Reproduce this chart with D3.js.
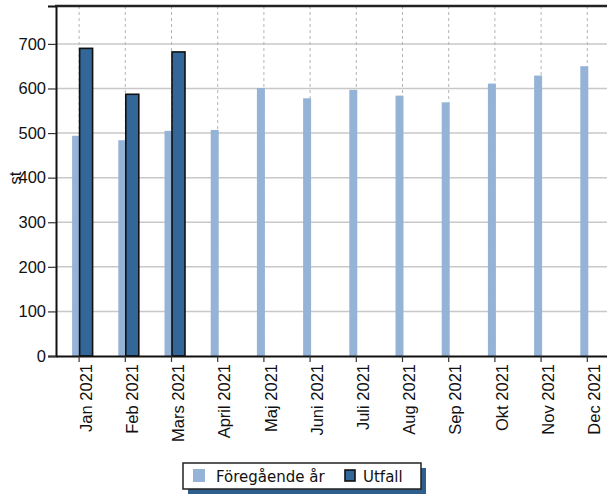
<!DOCTYPE html>
<html>
<head>
<meta charset="utf-8">
<script src="https://cdn.jsdelivr.net/npm/d3@7"></script>
<style>
  body { margin: 0; background: #fff; }
  svg { display: block; }
</style>
</head>
<body>
<div id="chart"></div>
<script>
// data
var months = ["Jan 2021", "Feb 2021", "Mars 2021", "April 2021", "Maj 2021", "Juni 2021",
  "Juli 2021", "Aug 2021", "Sep 2021", "Okt 2021", "Nov 2021", "Dec 2021"];
var previousYear = [494, 484, 505, 507, 601, 578, 597, 584, 569, 611, 629, 650];
var outcome = [690, 587, 682];
var yTicks = [0, 100, 200, 300, 400, 500, 600, 700];

var width = 607, height = 495;
var margin = { top: 6, left: 56, bottom: 139 };
var plotBottom = height - margin.bottom;
var axisFont = "'Liberation Sans', Arial, sans-serif";
var legendFont = "'DejaVu Sans', Verdana, sans-serif";

var svg = d3.select("#chart").append("svg")
  .attr("width", width)
  .attr("height", height);

svg.append("rect").attr("width", width).attr("height", height).attr("fill", "#fff");

var x = d3.scaleBand()
  .domain(months)
  .range([margin.left, margin.left + 12 * 46.2])
  .padding(0);

var y = d3.scaleLinear()
  .domain([0, 785])
  .range([plotBottom, margin.top]);

function cx(m) { return x(m) + x.bandwidth() / 2; }

// horizontal grid
svg.append("g")
  .selectAll("line")
  .data(yTicks.slice(1))
  .enter()
  .append("line")
  .attr("x1", margin.left)
  .attr("x2", width)
  .attr("y1", (d) => y(d))
  .attr("y2", (d) => y(d))
  .attr("stroke", "#c8c8c8")
  .attr("stroke-width", 1.5);

// vertical dashed grid
svg.append("g")
  .selectAll("line")
  .data(months)
  .enter()
  .append("line")
  .attr("x1", (d) => cx(d))
  .attr("x2", (d) => cx(d))
  .attr("y1", margin.top)
  .attr("y2", plotBottom)
  .attr("stroke", "#b4b4b4")
  .attr("stroke-width", 1)
  .attr("stroke-dasharray", "3,3");

// previous year bars
svg.append("g")
  .selectAll("rect")
  .data(previousYear)
  .enter()
  .append("rect")
  .attr("x", (d, i) => cx(months[i]) - 7)
  .attr("y", (d) => y(d))
  .attr("width", 8)
  .attr("height", (d) => plotBottom - y(d))
  .attr("fill", "#95b3d7");

// outcome bars
svg.append("g")
  .selectAll("rect")
  .data(outcome)
  .enter()
  .append("rect")
  .attr("x", (d, i) => cx(months[i]) + 0.5)
  .attr("y", (d) => y(d))
  .attr("width", 13)
  .attr("height", (d) => plotBottom - y(d))
  .attr("fill", "#336699")
  .attr("stroke", "#111")
  .attr("stroke-width", 1.6);

// y axis
var yAxis = svg.append("g")
  .attr("transform", "translate(" + margin.left + ",0)")
  .call(d3.axisLeft(y).tickValues(yTicks).tickSize(8).tickPadding(2));
yAxis.select(".domain").attr("stroke", "#111").attr("stroke-width", 2);
yAxis.selectAll(".tick line").attr("stroke", "#333").attr("stroke-width", 1.2);
yAxis.selectAll("text")
  .style("font-family", axisFont)
  .style("font-size", "16.5px")
  .attr("fill", "#111");

// top border
svg.append("line")
  .attr("x1", margin.left - 1).attr("x2", width)
  .attr("y1", margin.top).attr("y2", margin.top)
  .attr("stroke", "#222").attr("stroke-width", 2.5);

// x axis
var xAxis = svg.append("g")
  .attr("transform", "translate(0," + plotBottom + ")")
  .call(d3.axisBottom(x).tickSize(6).tickSizeOuter(0));
xAxis.select(".domain").attr("stroke", "#111").attr("stroke-width", 2);
xAxis.selectAll(".tick line").attr("stroke", "#333").attr("stroke-width", 1.2);
xAxis.selectAll("text")
  .style("font-family", axisFont)
  .style("font-size", "16.5px")
  .attr("fill", "#111")
  .attr("transform", "translate(7,8) rotate(-90)")
  .attr("x", 0)
  .attr("y", 0)
  .attr("dy", "0.35em")
  .style("text-anchor", "end");

// y label
svg.append("text")
  .attr("transform", "translate(21,178) rotate(-90)")
  .attr("text-anchor", "middle")
  .style("font-family", axisFont)
  .style("font-size", "16.5px")
  .attr("fill", "#111")
  .text("st");

// legend
var legend = svg.append("g").attr("transform", "translate(183,463)");
legend.append("rect")
  .attr("x", 5).attr("y", 5)
  .attr("width", 238).attr("height", 26)
  .attr("fill", "#2f5f8f");
legend.append("rect")
  .attr("width", 238).attr("height", 26)
  .attr("fill", "#fff")
  .attr("stroke", "#222")
  .attr("stroke-width", 1.5);
legend.append("rect")
  .attr("x", 10).attr("y", 6)
  .attr("width", 12).attr("height", 13)
  .attr("fill", "#95b3d7");
legend.append("text")
  .attr("x", 33).attr("y", 18.5)
  .style("font-family", legendFont)
  .style("font-size", "15px")
  .attr("fill", "#111")
  .text("Föregående år");
legend.append("rect")
  .attr("x", 162).attr("y", 7)
  .attr("width", 10).attr("height", 11)
  .attr("fill", "#336699")
  .attr("stroke", "#111")
  .attr("stroke-width", 1.6);
legend.append("text")
  .attr("x", 180).attr("y", 18.5)
  .style("font-family", legendFont)
  .style("font-size", "15px")
  .attr("fill", "#111")
  .text("Utfall");
</script>
</body>
</html>
